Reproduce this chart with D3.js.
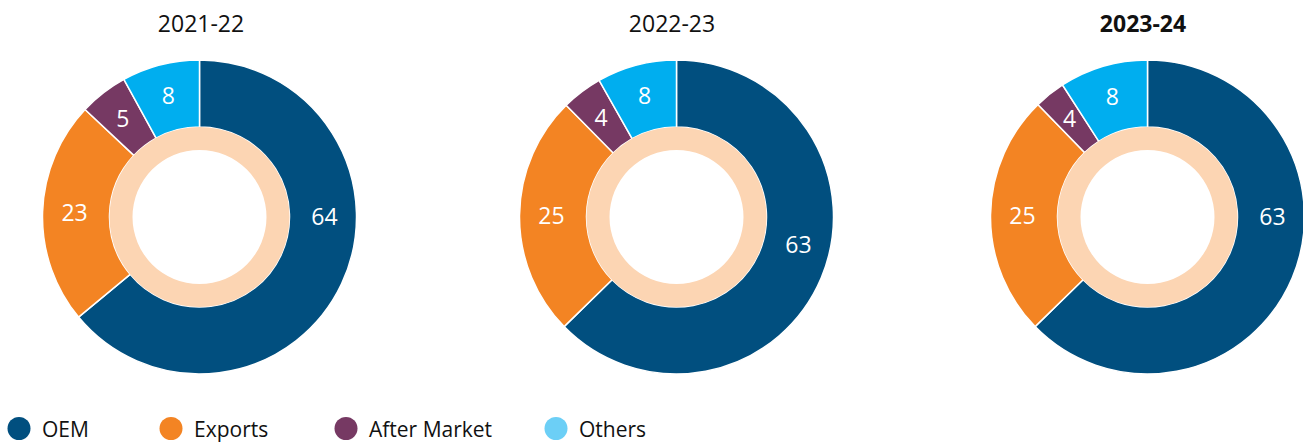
<!DOCTYPE html>
<html>
<head>
<meta charset="utf-8">
<script src="https://cdn.jsdelivr.net/npm/d3@7"></script>
<style>
  html, body { margin: 0; padding: 0; background: #fff; }
  svg { display: block; font-family: "Open Sans", "Noto Sans", sans-serif; }
</style>
</head>
<body>
<div id="chart"></div>
<script>
// data
const categories = ["OEM", "Exports", "After Market", "Others"];
const years = ["2021-22", "2022-23", "2023-24"];
const shares2122 = [64, 23, 5, 8];
const shares2223 = [62.7, 24.9, 4.2, 8.2];
const shares2324 = [62.7, 25, 3.2, 9.1];
const labels2122 = ["64", "23", "5", "8"];
const labels2223 = ["63", "25", "4", "8"];
const labels2324 = ["63", "25", "4", "8"];

const sliceColors = ["#014f7f", "#f38423", "#763963", "#00aeef"];
const legendColors = ["#014f7f", "#f38423", "#763963", "#6ccff6"];

const width = 1303;
const height = 443;
const centersX = [199.5, 676.5, 1147.5];
const titleX = [201, 672, 1143];
const centerY = 217;
const outerR = 157;
const innerR = 90;
const ringInner = 67;
const labelR = 125;
// the big slice's number is not at its centroid in the original
const bigLabelAngle = [90, 102.6, 90];

const charts = [
    { year: years[0], values: shares2122, labels: labels2122, bold: false },
    { year: years[1], values: shares2223, labels: labels2223, bold: false },
    { year: years[2], values: shares2324, labels: labels2324, bold: true }
];

const svg = d3.select("#chart")
    .append("svg")
    .attr("width", width)
    .attr("height", height);

const pie = d3.pie().sort(null).value(d => d);
const arc = d3.arc().innerRadius(innerR).outerRadius(outerR);
const ring = d3.arc().innerRadius(ringInner).outerRadius(innerR)
    .startAngle(0).endAngle(2 * Math.PI);

function labelAngle(d, i, ci) {
    return i === 0 ? bigLabelAngle[ci] * Math.PI / 180 : (d.startAngle + d.endAngle) / 2;
}

charts.forEach((c, ci) => {
    const g = svg.append("g")
        .attr("transform", `translate(${centersX[ci]},${centerY})`);

    g.selectAll("path.slice")
        .data(pie(c.values))
        .join("path")
        .attr("class", "slice")
        .attr("d", arc)
        .attr("fill", (d, i) => sliceColors[i])
        .attr("stroke", "#fff")
        .attr("stroke-width", 1.5);

    g.append("path")
        .attr("d", ring())
        .attr("fill", "#fcd5b3");

    g.selectAll("text.val")
        .data(pie(c.values))
        .join("text")
        .attr("class", "val")
        .attr("x", (d, i) => Math.sin(labelAngle(d, i, ci)) * labelR)
        .attr("y", (d, i) => -Math.cos(labelAngle(d, i, ci)) * labelR)
        .attr("dy", "0.36em")
        .attr("text-anchor", "middle")
        .attr("fill", "#fff")
        .attr("font-size", "23px")
        .text((d, i) => c.labels[i]);

    svg.append("text")
        .attr("x", titleX[ci])
        .attr("y", 31.5)
        .attr("text-anchor", "middle")
        .attr("font-size", "23px")
        .attr("font-weight", c.bold ? "bold" : "normal")
        .attr("fill", "#111")
        .text(c.year);
});

// legend
const legendX = [19, 171, 346, 556];
const legend = svg.append("g");
legend.selectAll("circle")
    .data(categories)
    .join("circle")
    .attr("cx", (d, i) => legendX[i])
    .attr("cy", 428.5)
    .attr("r", 11.5)
    .attr("fill", (d, i) => legendColors[i]);
legend.selectAll("text")
    .data(categories)
    .join("text")
    .attr("x", (d, i) => legendX[i] + 23)
    .attr("y", 437)
    .attr("font-size", "21px")
    .attr("fill", "#111")
    .text(d => d);
</script>
</body>
</html>
